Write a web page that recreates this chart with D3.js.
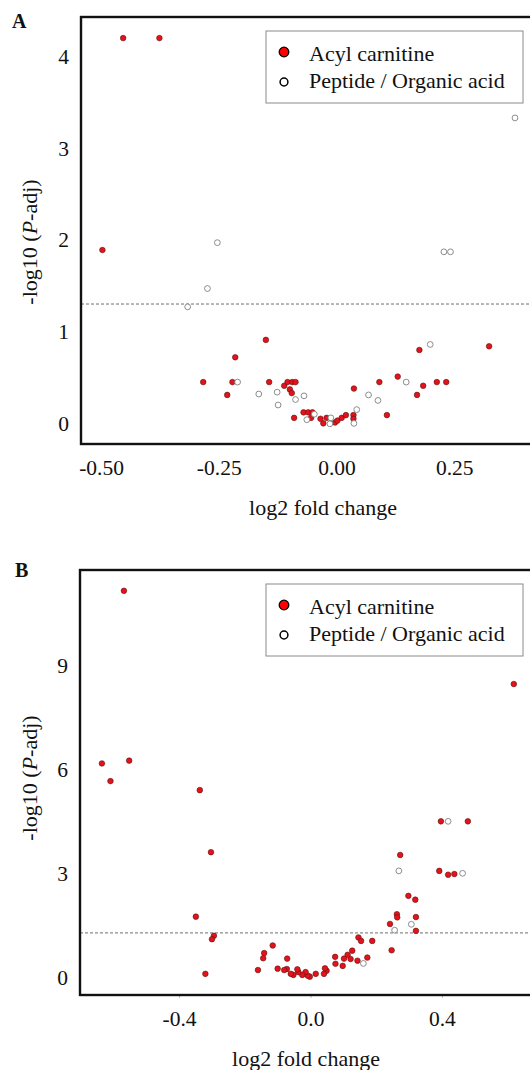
<!DOCTYPE html>
<html>
<head>
<meta charset="utf-8">
<script src="https://cdn.jsdelivr.net/npm/d3@7"></script>
<style>
	body { margin: 0; background: #fff; }
	svg { display: block; font-family: "Liberation Serif", "Times New Roman", serif; }
</style>
</head>
<body>
<div id="chart"></div>
<script>
// panel A: [log2 fold change, -log10 P-adj]
const acylA = [
	[-0.453, 4.2], [-0.376, 4.2], [-0.497, 1.89],
	[-0.15, 0.91], [-0.215, 0.72], [-0.283, 0.45], [-0.221, 0.45], [-0.143, 0.45], [-0.232, 0.31],
	[-0.111, 0.41], [-0.104, 0.45], [-0.094, 0.45], [-0.087, 0.45], [-0.099, 0.37], [-0.095, 0.33], [-0.09, 0.06],
	[0.176, 0.8], [0.324, 0.84], [0.091, 0.45], [0.13, 0.51], [0.213, 0.45], [0.233, 0.45], [0.184, 0.41],
	[0.171, 0.31], [0.037, 0.38], [0.107, 0.09],
	[-0.07, 0.12], [-0.06, 0.12], [-0.051, 0.12], [-0.054, 0.06], [-0.034, 0.05], [-0.028, 0.0], [-0.021, 0.06],
	[-0.003, 0.01], [0.002, 0.03], [0.011, 0.06], [0.02, 0.09], [0.036, 0.09], [0.036, 0.05],
];
const peptideA = [
	[-0.253, 1.97], [-0.274, 1.47], [-0.316, 1.27], [0.379, 3.33], [0.228, 1.87], [0.242, 1.87],
	[-0.21, 0.45], [-0.165, 0.32], [-0.126, 0.34], [-0.124, 0.2], [-0.087, 0.26], [-0.069, 0.3],
	[0.199, 0.86], [0.148, 0.45], [0.068, 0.31], [0.088, 0.25], [0.043, 0.15], [0.037, 0.0],
	[-0.063, 0.04], [-0.047, 0.1], [-0.012, 0.06], [-0.014, -0.005],
];

// panel B
const acylB = [
	[-0.568, 11.17], [-0.635, 6.19], [-0.609, 5.68], [-0.552, 6.27], [-0.337, 5.42], [-0.303, 3.63],
	[0.619, 8.48], [0.397, 4.52], [0.479, 4.52], [0.273, 3.55],
	[0.392, 3.09], [0.419, 2.98], [0.438, 3.0],
	[0.298, 2.37], [0.319, 2.26], [0.321, 1.76], [0.321, 1.36],
	[0.263, 1.84], [0.264, 1.75], [0.242, 1.56], [0.247, 0.8],
	[0.146, 1.17], [0.154, 1.07], [0.188, 1.07], [0.173, 0.59],
	[0.143, 0.5], [0.127, 0.79], [0.122, 0.55], [0.113, 0.67], [0.102, 0.56], [0.098, 0.35],
	[0.075, 0.61], [0.076, 0.41], [0.049, 0.21], [0.044, 0.28], [0.041, 0.12],
	[0.016, 0.12], [-0.002, 0.04], [-0.009, 0.07], [-0.015, 0.17], [-0.025, 0.09], [-0.037, 0.17],
	[-0.04, 0.25], [-0.052, 0.09], [-0.06, 0.12],
	[-0.072, 0.26], [-0.08, 0.23], [-0.1, 0.27], [-0.071, 0.56], [-0.115, 0.94], [-0.141, 0.72],
	[-0.144, 0.57], [-0.16, 0.23],
	[-0.32, 0.12], [-0.294, 1.22], [-0.3, 1.12], [-0.349, 1.77],
];
const peptideB = [
	[0.419, 4.52], [0.269, 3.09], [0.463, 3.02], [0.256, 1.38], [0.307, 1.55], [0.161, 0.42],
];

const xTicksA = [-0.5, -0.25, 0, 0.25];
const yTicksA = [0, 1, 2, 3, 4];
const xTicksB = [-0.4, 0, 0.4];
const yTicksB = [0, 3, 6, 9];
const legendLabels = ["Acyl carnitine", "Peptide / Organic acid"];
const cutoff = -Math.log10(0.05);

const RED = "#e5121c";

const svg = d3
	.select("#chart")
	.append("svg")
	.attr("width", 530)
	.attr("height", 1070);

function drawPanel(opt) {
	const g = svg.append("g");
	const x = d3.scaleLinear().domain(opt.xDomain).range([opt.left, opt.right]);
	const y = d3.scaleLinear().domain(opt.yDomain).range([opt.bottom, opt.top]);
	const fmt = (f) => (d) => d3.format(f)(d).replace("\u2212", "-");

	// cutoff line
	g.append("line")
		.attr("x1", opt.left)
		.attr("x2", opt.right)
		.attr("y1", y(cutoff))
		.attr("y2", y(cutoff))
		.attr("stroke", "#6f6f6f")
		.attr("stroke-width", 1)
		.attr("stroke-dasharray", "3,2");

	const yAxis = g
		.append("g")
		.attr("transform", "translate(" + opt.left + ",0)")
		.call(d3.axisLeft(y).tickValues(opt.yTicks).tickFormat(d3.format("d")).tickSize(0).tickPadding(12));
	yAxis.select(".domain").remove();
	yAxis.selectAll("text").attr("font-size", 21.5).attr("font-family", "Liberation Serif").attr("fill", "#111");

	const xAxis = g
		.append("g")
		.attr("transform", "translate(0," + opt.bottom + ")")
		.call(d3.axisBottom(x).tickValues(opt.xTicks).tickFormat(fmt(opt.xFormat)).tickSize(opt.tickLen).tickPadding(16 - opt.tickLen));
	xAxis.select(".domain").remove();
	xAxis.selectAll("line").attr("stroke", "#bbb");
	xAxis.selectAll("text").attr("font-size", 21.5).attr("font-family", "Liberation Serif").attr("fill", "#111");

	// points
	g.append("g")
		.selectAll("circle")
		.data(opt.acyl)
		.join("circle")
		.attr("cx", (d) => x(d[0]))
		.attr("cy", (d) => y(d[1]))
		.attr("r", 2.8)
		.attr("fill", RED)
		.attr("stroke", "#5b1212")
		.attr("stroke-width", 0.6);

	g.append("g")
		.selectAll("circle")
		.data(opt.peptide)
		.join("circle")
		.attr("cx", (d) => x(d[0]))
		.attr("cy", (d) => y(d[1]))
		.attr("r", 2.9)
		.attr("fill", "#fff")
		.attr("stroke", "#808080")
		.attr("stroke-width", 0.9);

	// frame
	g.append("rect")
		.attr("x", opt.left)
		.attr("y", opt.top)
		.attr("width", opt.right - opt.left)
		.attr("height", opt.bottom - opt.top)
		.attr("fill", "none")
		.attr("stroke", "#111")
		.attr("stroke-width", 2.4);

	// legend
	const lg = g.append("g").attr("transform", "translate(266," + (opt.top + 14) + ")");
	lg.append("rect")
		.attr("width", 257)
		.attr("height", 72)
		.attr("fill", "#fff")
		.attr("stroke", "#8a8a8a")
		.attr("stroke-width", 1);
	lg.append("circle").attr("cx", 18).attr("cy", 21).attr("r", 4.8).attr("fill", "#f00").attr("stroke", "#000").attr("stroke-width", 1.3);
	lg.append("circle").attr("cx", 18).attr("cy", 51).attr("r", 3.9).attr("fill", "#fff").attr("stroke", "#000").attr("stroke-width", 1.5);
	lg.selectAll("text.lab")
		.data(legendLabels)
		.join("text")
		.attr("class", "lab")
		.attr("x", 43)
		.attr("y", (d, i) => 29.5 + i * 27)
		.attr("font-size", 22)
		.attr("fill", "#111")
		.text((d) => d);

	// titles
	g.append("text")
		.attr("x", opt.xTitleX)
		.attr("y", opt.bottom + 71)
		.attr("text-anchor", "middle")
		.attr("font-size", 22)
		.attr("fill", "#111")
		.text("log2 fold change");

	const yt = g
		.append("text")
		.attr("transform", "translate(37," + opt.yTitleY + ") rotate(-90)")
		.attr("text-anchor", "middle")
		.attr("font-size", 22)
		.attr("fill", "#111");
	yt.append("tspan").text("-log10 (");
	yt.append("tspan").attr("font-style", "italic").text("P");
	yt.append("tspan").text("-adj)");

	g.append("text")
		.attr("x", opt.labelX)
		.attr("y", opt.labelY)
		.attr("font-size", 20)
		.attr("font-weight", "bold")
		.attr("fill", "#111")
		.text(opt.label);
}

drawPanel({
	label: "A", labelX: 12, labelY: 28,
	acyl: acylA, peptide: peptideA,
	xDomain: [-0.5425, 0.4427], yDomain: [-0.225, 4.43],
	left: 81, right: 545, top: 17, bottom: 444,
	xTicks: xTicksA, yTicks: yTicksA, xFormat: ".2f", tickLen: 0,
	xTitleX: 323, yTitleY: 242,
});

drawPanel({
	label: "B", labelX: 15, labelY: 577,
	acyl: acylB, peptide: peptideB,
	xDomain: [-0.7017, 0.7139], yDomain: [-0.49, 11.77],
	left: 80, right: 545, top: 570, bottom: 995,
	xTicks: xTicksB, yTicks: yTicksB, xFormat: ".1f", tickLen: 3,
	xTitleX: 306, yTitleY: 778,
});
</script>
</body>
</html>
